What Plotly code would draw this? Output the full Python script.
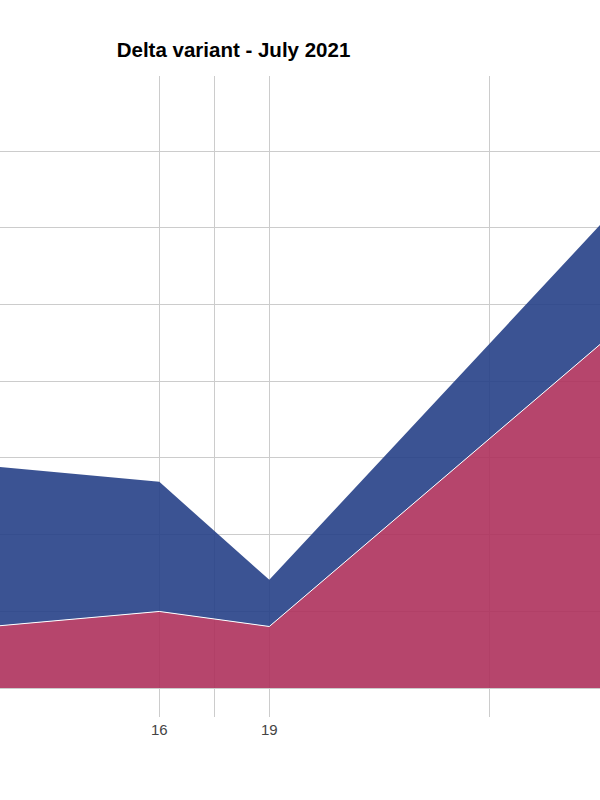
import plotly.graph_objects as go

# Data (day of July 2021)
days = [11, 16, 19, 29]
series_red = [3.92, 4.99, 4.01, 24.40]      # bottom layer
series_blue = [10.64, 8.45, 3.04, 8.30]     # stacked on top

tick_vals = [16, 17.5, 19, 25]
tick_text = ["16", "", "19", ""]

title_text = "Delta variant - July 2021"

fig = go.Figure()
fig.add_trace(go.Scatter(
    x=days, y=series_red, mode="lines", stackgroup="one",
    line=dict(color="white", width=1),
    fillcolor="rgba(174,49,92,0.9)", name="red",
))
fig.add_trace(go.Scatter(
    x=days, y=series_blue, mode="lines", stackgroup="one",
    line=dict(color="rgba(38,64,135,0)", width=0),
    fillcolor="rgba(38,64,135,0.9)", name="blue",
))

fig.update_layout(
    width=600, height=800,
    margin=dict(l=0, r=0, t=76, b=112),
    paper_bgcolor="white", plot_bgcolor="white",
    showlegend=False,
    title=dict(text="<b>" + title_text + "</b>", x=233.5 / 600, xanchor="center",
               y=1 - 50 / 800, yanchor="middle",
               font=dict(family="Liberation Sans, Arial", size=20.5, color="black")),
    font=dict(family="Liberation Sans, Arial", color="#444"),
)
fig.update_xaxes(
    range=[11.656, 28.018],
    tickvals=tick_vals, ticktext=tick_text,
    showgrid=True, gridcolor="#cccccc", gridwidth=1,
    ticks="outside", ticklen=28, tickcolor="#cccccc", tickwidth=1,
    tickfont=dict(size=15, color="#444"),
    showline=True, linecolor="#cccccc", linewidth=1,
    zeroline=False,
)
fig.update_yaxes(
    range=[0, 39.9], dtick=5, tick0=0,
    showgrid=True, gridcolor="#cccccc", gridwidth=1,
    showticklabels=False, zeroline=False, showline=False,
)

fig.write_html(
    "out.html",
    config={"displayModeBar": False},
    post_script="document.body.style.margin='0';document.body.style.overflow='hidden';",
)
